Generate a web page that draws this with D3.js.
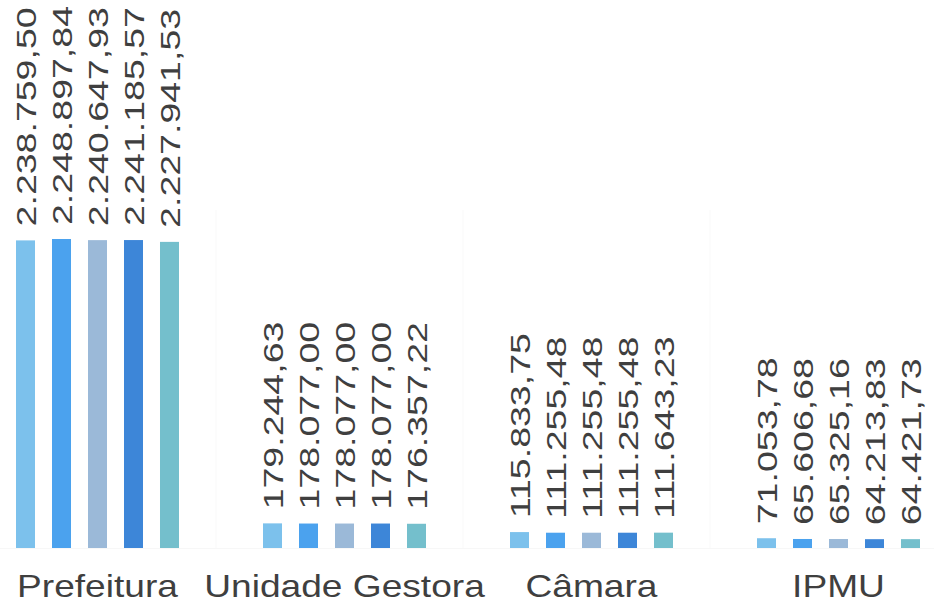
<!DOCTYPE html>
<html>
<head>
<meta charset="utf-8">
<script src="https://cdn.jsdelivr.net/npm/d3@7"></script>
<style>
  body { margin: 0; background: #fff; }
  text { font-family: "Liberation Sans", Arial, sans-serif; fill: #3f3f3f; }
</style>
</head>
<body>
<div id="chart"></div>
<script>
// Chart data
const CATEGORIES = ['Prefeitura', 'Unidade Gestora', 'Câmara', 'IPMU'];
const SERIES = ['s1', 's2', 's3', 's4', 's5'];
const VALUES = [
	[2238759.50, 2248897.84, 2240647.93, 2241185.57, 2227941.53],
	[179244.63, 178077.00, 178077.00, 178077.00, 176357.22],
	[115833.75, 111255.48, 111255.48, 111255.48, 111643.23],
	[71053.78, 65606.68, 65325.16, 64213.83, 64421.73]
];
const COLORS = ['#7cc1ec', '#4ba2ee', '#9bb9d8', '#3d86d8', '#74bfcc'];

const WIDTH = 934, HEIGHT = 614;
const BASELINE = 548;
const TOP = 239;

const fmt = v => v.toLocaleString('pt-BR', {minimumFractionDigits: 2, maximumFractionDigits: 2});

const svg = d3.select('#chart').append('svg')
	.attr('width', WIDTH)
	.attr('height', HEIGHT);

// Scales
const xScale = d3.scaleBand()
	.domain(CATEGORIES)
	.range([-26, 962]);

const innerScale = d3.scaleBand()
	.domain(SERIES)
	.range([0, 163])
	.paddingInner(0.472);

const yScale = d3.scaleLinear()
	.domain([0, d3.max(VALUES.flat())])
	.range([BASELINE, TOP]);

// Faint separators between groups
svg.append('g')
	.selectAll('line')
	.data(CATEGORIES.slice(1))
	.enter()
	.append('line')
	.attr('x1', d => xScale(d) - 5)
	.attr('x2', d => xScale(d) - 5)
	.attr('y1', 210)
	.attr('y2', BASELINE)
	.attr('stroke', '#f9f9f9');

svg.append('line')
	.attr('x1', 0).attr('x2', WIDTH)
	.attr('y1', BASELINE + 0.5).attr('y2', BASELINE + 0.5)
	.attr('stroke', '#f7f7f7');

// Groups
const groups = svg.append('g')
	.selectAll('g')
	.data(CATEGORIES)
	.enter()
	.append('g')
	.attr('transform', d => `translate(${xScale(d) + xScale.bandwidth() / 2 - 81.5}, 0)`);

const cells = groups.selectAll('g.cell')
	.data((d, i) => VALUES[i].map((v, j) => ({series: SERIES[j], value: v, idx: j})))
	.enter()
	.append('g')
	.attr('class', 'cell');

cells.append('rect')
	.attr('x', d => innerScale(d.series))
	.attr('y', d => yScale(d.value))
	.attr('width', innerScale.bandwidth())
	.attr('height', d => BASELINE - yScale(d.value))
	.attr('fill', d => COLORS[d.idx]);

cells.append('text')
	.attr('transform', d => `translate(${innerScale(d.series) + innerScale.bandwidth() / 2}, ${yScale(d.value) - 14})rotate(-90)scale(1.34,1)`)
	.attr('dy', '0.36em')
	.attr('font-size', 28)
	.text(d => fmt(d.value));

// Category labels
svg.append('g')
	.selectAll('text')
	.data(CATEGORIES)
	.enter()
	.append('text')
	.attr('transform', d => `translate(${xScale(d) + xScale.bandwidth() / 2}, 597)scale(1.16,1)`)
	.attr('text-anchor', 'middle')
	.attr('font-size', 32)
	.text(d => d);
</script>
</body>
</html>
